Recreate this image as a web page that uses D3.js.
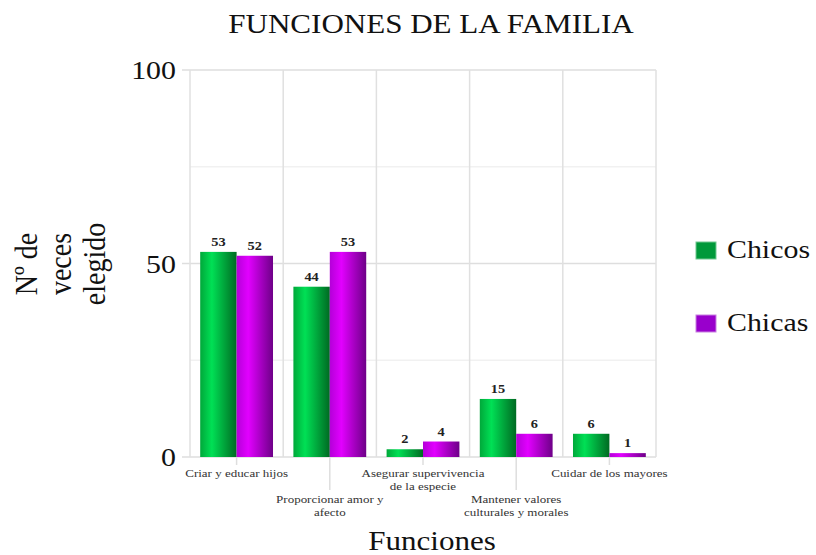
<!DOCTYPE html>
<html>
<head>
<meta charset="utf-8">
<script src="https://cdn.jsdelivr.net/npm/d3@7"></script>
<style>
  html, body { margin: 0; padding: 0; background: #fff; }
</style>
</head>
<body>
<div id="art"></div>
<script>
const categories = ["Criar y educar hijos", "Proporcionar amor y afecto", "Asegurar supervivencia de la especie", "Mantener valores culturales y morales", "Cuidar de los mayores"];
// category labels split into lines as drawn
const categoryLines = [["Criar y educar hijos"], ["Proporcionar amor y", "afecto"], ["Asegurar supervivencia", "de la especie"], ["Mantener valores", "culturales y morales"], ["Cuidar de los mayores"]];
const seriesNames = ["Chicos", "Chicas"];
const chicos = [53, 44, 2, 15, 6];
const chicas = [52, 53, 4, 6, 1];
const yTicks = [0, 50, 100];
const yMinorTicks = [25, 75];

function art() {
  const width = 816, height = 555;
  const plot = { left: 190, right: 656, top: 70, bottom: 457 };
  const stretch = 1.15; // text in the picture is a bit wider than tall
  const serif = "'Liberation Serif', Tinos, 'Times New Roman', Times, 'DejaVu Serif', serif";

  const svg = d3.select("#art").append("svg")
    .attr("width", width).attr("height", height)
    .style("font-family", serif);

  const defs = svg.append("defs");
  const grads = [
    { id: "gGreen", stops: [["0%", "#00a83a"], ["32%", "#00e055"], ["100%", "#006a22"]] },
    { id: "gPurple", stops: [["0%", "#b400d8"], ["32%", "#e200ff"], ["100%", "#6e0088"]] }
  ];
  grads.forEach(g => {
    const lg = defs.append("linearGradient").attr("id", g.id)
      .attr("x1", "0%").attr("x2", "100%").attr("y1", "0%").attr("y2", "0%");
    g.stops.forEach(s => lg.append("stop").attr("offset", s[0]).attr("stop-color", s[1]));
  });

  const data = categories.map((c, i) => ({ cat: c, values: [chicos[i], chicas[i]] }));

  const x0 = d3.scaleBand().domain(categories).range([plot.left, plot.right]).padding(0);
  const x1 = d3.scaleBand().domain(seriesNames).range([0, x0.bandwidth()]).paddingInner(0).paddingOuter(0.28);
  const y = d3.scaleLinear().domain([0, 100]).range([plot.bottom, plot.top]);

  // grid
  const grid = svg.append("g");
  grid.selectAll(".minor").data(yMinorTicks).enter().append("line")
    .attr("x1", plot.left).attr("x2", plot.right)
    .attr("y1", d => y(d)).attr("y2", d => y(d))
    .attr("stroke", "#f1f1f1").attr("stroke-width", 1.5);
  grid.selectAll(".major").data(yTicks).enter().append("line")
    .attr("x1", plot.left - 8).attr("x2", plot.right)
    .attr("y1", d => y(d)).attr("y2", d => y(d))
    .attr("stroke", "#dedede").attr("stroke-width", 1.5);
  const bounds = categories.map(c => x0(c)).concat([plot.right]);
  grid.selectAll(".vline").data(bounds).enter().append("line")
    .attr("x1", d => d).attr("x2", d => d)
    .attr("y1", plot.top).attr("y2", plot.bottom)
    .attr("stroke", "#e0e0e0").attr("stroke-width", 1.5);

  // x ticks (staggered)
  svg.selectAll(".xtick").data(categories).enter().append("line")
    .attr("x1", d => x0(d) + x0.bandwidth() / 2).attr("x2", d => x0(d) + x0.bandwidth() / 2)
    .attr("y1", plot.bottom).attr("y2", (d, i) => plot.bottom + (i % 2 ? 33 : 8))
    .attr("stroke", "#dedede").attr("stroke-width", 1.5);

  // bars
  const groups = svg.selectAll(".cat").data(data).enter().append("g")
    .attr("transform", d => `translate(${x0(d.cat)},0)`);
  groups.selectAll("rect").data(d => d.values.map((v, k) => ({ key: seriesNames[k], v: v })))
    .enter().append("rect")
    .attr("x", d => x1(d.key))
    .attr("y", d => y(d.v))
    .attr("width", x1.bandwidth())
    .attr("height", d => y(0) - y(d.v))
    .attr("fill", d => d.key === "Chicos" ? "url(#gGreen)" : "url(#gPurple)");
  groups.selectAll("text").data(d => d.values.map((v, k) => ({ key: seriesNames[k], v: v })))
    .enter().append("text")
    .attr("transform", d => `translate(${x1(d.key) + x1.bandwidth() / 2},${y(d.v) - 6}) scale(${stretch},1)`)
    .attr("text-anchor", "middle")
    .attr("font-size", 12.5).attr("font-weight", "bold").attr("fill", "#222")
    .text(d => d.v);

  // y tick labels
  svg.selectAll(".ylab").data(yTicks).enter().append("text")
    .attr("transform", d => `translate(176,${y(d) + 9}) scale(${stretch},1)`)
    .attr("text-anchor", "end").attr("font-size", 26).attr("fill", "#111")
    .text(d => d);

  // x category labels
  const xl = svg.selectAll(".xlab").data(categoryLines).enter().append("g");
  xl.each(function (lines, i) {
    const cx = x0(categories[i]) + x0.bandwidth() / 2;
    const base = i % 2 ? 503 : 477;
    lines.forEach((t, j) => {
      d3.select(this).append("text")
        .attr("transform", `translate(${cx},${base + j * 13}) scale(${stretch},1)`)
        .attr("text-anchor", "middle").attr("font-size", 11.3).attr("fill", "#333")
        .text(t);
    });
  });

  // title
  svg.append("text")
    .attr("transform", `translate(431,33) scale(${stretch},1)`)
    .attr("text-anchor", "middle").attr("font-size", 27).attr("fill", "#111")
    .text("FUNCIONES DE LA FAMILIA");

  // x axis title
  svg.append("text")
    .attr("transform", `translate(432,550) scale(${stretch},1)`)
    .attr("text-anchor", "middle").attr("font-size", 27).attr("fill", "#111")
    .text("Funciones");

  // y axis title, three lines rotated
  const yTitle = ["Nº de", "veces", "elegido"];
  yTitle.forEach((t, j) => {
    svg.append("text")
      .attr("transform", `translate(${37 + j * 34},264) scale(${stretch},1) rotate(-90)`)
      .attr("text-anchor", "middle").attr("font-size", 28).attr("fill", "#111")
      .text(t);
  });

  // legend
  const legendColours = ["#00993a", "#9900cc"];
  const legend = svg.selectAll(".leg").data(seriesNames).enter().append("g")
    .attr("transform", (d, i) => `translate(696,${242 + i * 73})`);
  legend.append("rect")
    .attr("width", 20).attr("height", 17)
    .attr("fill", (d, i) => legendColours[i])
    .attr("stroke", (d, i) => i ? "#c880e0" : "#70c890").attr("stroke-width", 1);
  legend.append("text")
    .attr("transform", `translate(31,16) scale(${stretch},1)`)
    .attr("font-size", 26).attr("fill", "#111")
    .text(d => d);
}

window.onload = function () {
  art();
};
</script>
</body>
</html>
